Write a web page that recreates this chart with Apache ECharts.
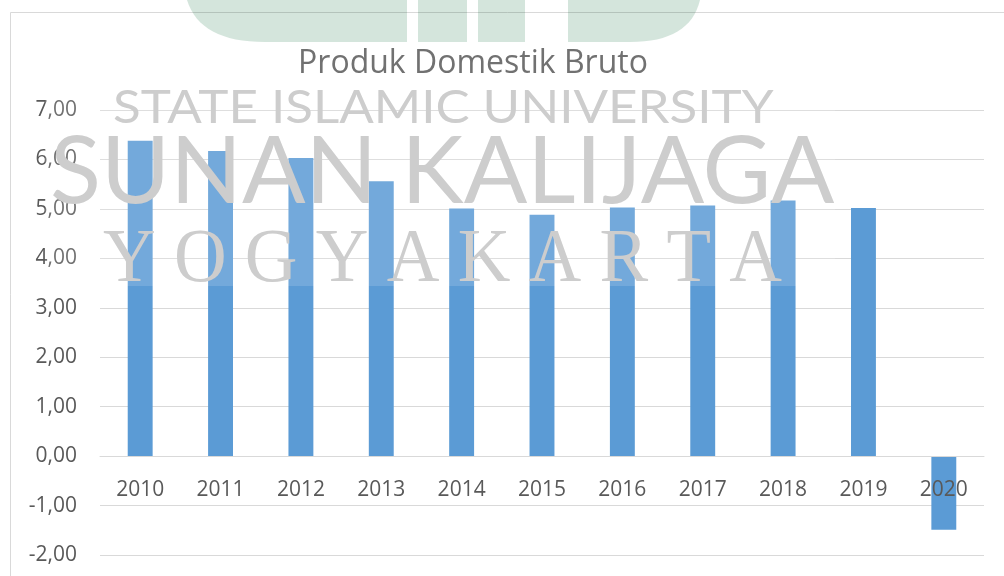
<!DOCTYPE html>
<html>
<head>
<meta charset="utf-8">
<title>Produk Domestik Bruto</title>
<script src="https://cdn.jsdelivr.net/npm/echarts@6/dist/echarts.min.js"></script>
<style>
  html, body { margin: 0; padding: 0; background: #ffffff; }
  #chart { width: 1004px; height: 576px; }
</style>
</head>
<body>
<div id="chart"></div>
<script>
// data
const years = ['2010', '2011', '2012', '2013', '2014', '2015', '2016', '2017', '2018', '2019', '2020'];
const pdbValues = [6.38, 6.17, 6.03, 5.56, 5.01, 4.88, 5.03, 5.07, 5.17, 5.02, -1.49];
const yTicks = [-2, -1, 0, 1, 2, 3, 4, 5, 6, 7];

const chart = echarts.init(document.getElementById('chart'));

const labelFont = '"Open Sans", "Noto Sans", sans-serif';
const logoGreen = '#d4e5dc';
const markGrey = '#cdcdcd';

//titik kurva kuadratik untuk bentuk logo watermark
const quadPoints = (p0, c, p1, n) => {
    const pts = [];
    for (let i = 0; i <= n; i++) {
        const t = i / n;
        const a = (1 - t) * (1 - t), b = 2 * (1 - t) * t, d = t * t;
        pts.push([a * p0[0] + b * c[0] + d * p1[0], a * p0[1] + b * c[1] + d * p1[1]]);
    }
    return pts;
};
const logoLeft = [...quadPoints([187, 0], [200, 42], [265, 42], 16), [407, 42], [407, 0]];
const logoRight = [[568, 0], ...quadPoints([700, 0], [690, 42], [630, 42], 16), [568, 42]];

chart.setOption({
    animation: false,
    backgroundColor: '#ffffff',
    title: {
        text: 'Produk Domestik Bruto',
        left: 468,
        top: 43,
        textAlign: 'center',
        textStyle: {
            color: '#595959',
            fontFamily: labelFont,
            fontWeight: 'normal',
            fontSize: 32
        }
    },
    grid: {
        left: 100,
        right: 20,
        top: 110,
        bottom: 21,
        outerBoundsMode: 'none',
        containLabel: false
    },
    xAxis: {
        type: 'category',
        data: years,
        //sumbu diletakkan di garis nol (0 ada di 2/9 tinggi grid dari bawah)
        offset: -99,
        //label di atas batang (2020 menimpa batang negatif)
        z: 5,
        axisLine: {show: true, onZero: false, lineStyle: {color: '#d9d9d9', width: 1}},
        axisTick: {show: false},
        axisLabel: {
            color: '#595959',
            fontFamily: labelFont,
            fontSize: 21,
            margin: 24
        }
    },
    yAxis: {
        type: 'value',
        min: yTicks[0],
        max: yTicks[yTicks.length - 1],
        interval: 1,
        axisLine: {show: false},
        axisTick: {show: false},
        splitLine: {lineStyle: {color: '#d9d9d9', width: 1}},
        axisLabel: {
            color: '#595959',
            fontFamily: labelFont,
            fontSize: 21,
            margin: 23,
            //koma sebagai pemisah desimal
            formatter: v => v.toFixed(2).replace('.', ',')
        }
    },
    series: [{
        type: 'bar',
        data: pdbValues,
        barWidth: '31%',
        itemStyle: {color: '#5b9bd5'}
    }],
    //bingkai dan watermark
    graphic: [
        {
            type: 'rect', z: -10, silent: true,
            shape: {x: 10.5, y: 12.5, width: 1100, height: 700},
            style: {fill: null, stroke: '#d9d9d9', lineWidth: 1}
        },
        {
            type: 'polygon', z: 100, silent: true,
            shape: {points: logoLeft},
            style: {fill: logoGreen, blend: 'multiply'}
        },
        {
            type: 'rect', z: 100, silent: true,
            shape: {x: 418, y: 0, width: 49, height: 42},
            style: {fill: logoGreen, blend: 'multiply'}
        },
        {
            type: 'rect', z: 100, silent: true,
            shape: {x: 478, y: 0, width: 47, height: 42},
            style: {fill: logoGreen, blend: 'multiply'}
        },
        {
            type: 'polygon', z: 100, silent: true,
            shape: {points: logoRight},
            style: {fill: logoGreen, blend: 'multiply'}
        },
        {
            type: 'rect', z: 100, silent: true,
            shape: {x: 45, y: 42, width: 790, height: 244},
            style: {fill: 'rgba(255,255,255,0.15)'}
        },
        {
            type: 'text', z: 101, silent: true,
            x: 113, y: 85, scaleX: 1.11,
            style: {
                text: 'STATE ISLAMIC UNIVERSITY',
                font: '46px Lato, "Open Sans", sans-serif',
                fill: markGrey,
                blend: 'multiply'
            }
        },
        {
            type: 'text', z: 101, silent: true,
            x: 50, y: 126,
            style: {
                text: 'SUNAN KALIJAGA',
                font: '94px Lato, "Open Sans", sans-serif',
                fill: markGrey,
                blend: 'multiply'
            }
        },
        {
            type: 'text', z: 101, silent: true,
            x: 103, y: 223, scaleX: 0.96,
            style: {
                text: 'Y O G Y A K A R T A',
                font: '76px "Liberation Serif", "DejaVu Serif", serif',
                fill: markGrey,
                blend: 'multiply'
            }
        }
    ]
});
</script>
</body>
</html>
